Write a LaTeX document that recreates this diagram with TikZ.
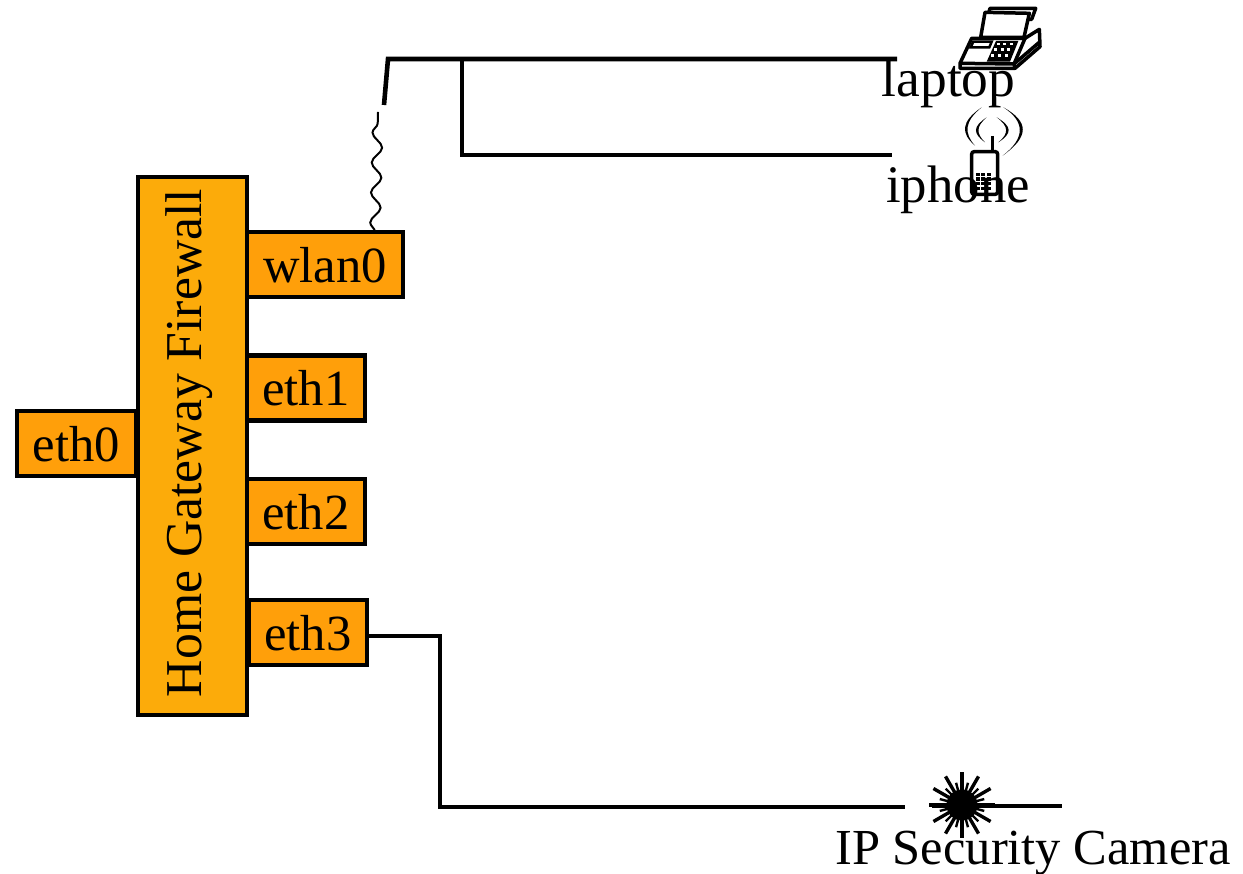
\documentclass[tikz,border=0pt]{standalone}
\usepackage{fontspec}
\setmainfont{Liberation Serif}
\usetikzlibrary{decorations.pathmorphing}
\definecolor{gate}{HTML}{FCAB0A}
\definecolor{iface}{HTML}{FF9F0A}
\begin{document}
\begin{tikzpicture}[
    x=0.01cm, y=-0.01cm,
    gateway/.style={draw, fill=gate, line width=4.5*0.01cm, inner sep=0pt, outer sep=0pt},
    port/.style={draw, fill=iface, line width=4.5*0.01cm, inner sep=0pt, outer sep=0pt,
      minimum height=65*0.01cm, text height=36*0.01cm, text depth=0pt,
      font=\fontsize{14.4pt}{16pt}\selectfont},
    wire/.style={line width=4.6*0.01cm, line join=miter},
    tag/.style={font=\fontsize{15pt}{16pt}\selectfont, inner sep=0pt},
    icon/.style={line width=3.5*0.01cm, line join=round, fill=white}]
  \useasboundingbox (0,0) rectangle (1243,874);
  % the gateway and its interfaces
  \node[gateway, minimum width=109*0.01cm, minimum height=538*0.01cm] (gw) at (192.5,446) {};
  \node[font=\fontsize{14.7pt}{16pt}\selectfont, rotate=90, inner sep=0pt] (gwtext) at (189,443) {Home Gateway Firewall};
  \node[port, minimum width=119*0.01cm] (eth0) at (76.5,443.5) {eth0};
  \node[port, minimum width=156*0.01cm] (wlan0) at (325,264.5) {wlan0};
  \node[port, minimum width=118*0.01cm] (eth1) at (306,388) {eth1};
  \node[port, minimum width=118*0.01cm] (eth2) at (306,511.5) {eth2};
  \node[port, minimum width=118*0.01cm] (eth3) at (308,632.5) {eth3};
  % labels
  \node[tag, font=\fontsize{15.2pt}{16pt}\selectfont] (laptop) at (948.5,84) {laptop};
  \node[tag] (iphone) at (958,190) {iphone};
  \node[tag, font=\fontsize{14.35pt}{16pt}\selectfont] (camera) at (1033,853) {IP Security Camera};
  % wiring
  \coordinate (apfoot) at (384,105);
  \coordinate (aptop) at (388,59);
  \coordinate (aptee) at (462,59);
  \coordinate (laptopend) at (897,59);
  \coordinate (iphoneend) at (892,155);
  \coordinate (cambend) at (440,636);
  \coordinate (camend) at (905,807);
  \coordinate (camhub) at (962,805);
  \coordinate (radiotop) at (378,112);
  \draw[wire] (apfoot) -- (aptop) -- (laptopend);
  \draw[wire] (aptee) |- (iphoneend);
  \draw[wire, line width=3.5*0.01cm, line cap=rect] (eth3.east |- cambend) -- (cambend);
  \draw[wire, line cap=rect] (cambend) -- (cambend |- camend);
  \draw[wire] (cambend |- camend) -- (camend);
  \draw[line width=2*0.01cm, decorate,
    decoration={snake, amplitude=5*0.01cm, segment length=30*0.01cm}]
    (wlan0.north -| 375,0) -- (radiotop);
  % camera burst
  \begin{scope}[shift={(camhub)}]
    \fill (0,0) circle (15.5);
    \foreach \a in {0,30,...,330}
      \draw[line width=3.4*0.01cm] (0,0) -- (\a:33);
    \foreach \a in {15,45,...,345}
      \draw[line width=2.4*0.01cm] (0,0) -- (\a:23);
    \draw[line width=3.4*0.01cm] (-30,1) -- (100,1);
  \end{scope}
  % fax, in zoomed units
  \begin{scope}[shift={(870,0)}, x=0.01cm/3, y=-0.01cm/3]
    \draw[icon] (360,25) -- (497,25) -- (485,58) -- (350,58) -- cycle;
    \draw[icon] (332,112) -- (345,37) -- (478,40) -- (462,112) -- cycle;
    \draw[icon] (305,115) -- (465,115) -- (508,88) -- (510,140) -- (435,205) -- (270,205) -- (270,190) -- cycle;
    \draw[line width=3.5*0.01cm] (270,190) -- (432,192) -- (510,125);
    \draw[line width=3.5*0.01cm] (432,192) -- (435,205);
    \draw[line width=3.5*0.01cm] (465,115) -- (432,192);
    \draw[line width=2.5*0.01cm, fill=white] (310,125) -- (365,125) -- (358,142) -- (302,142) -- cycle;
    \fill (378,123) -- (445,123) -- (420,185) -- (350,185) -- cycle;
    \foreach \i in {0,1,2} \foreach \j in {0,1,2}
      \fill[white] ({380+\i*20-\j*8},{128+\j*17}) rectangle +(9,8);
  \end{scope}
  % phone, in zoomed units
  \begin{scope}[shift={(870,0)}, x=0.01cm/3, y=-0.01cm/3]
    \draw[line width=3.5*0.01cm] (367,408) -- (367,455);
    \draw[line width=3.5*0.01cm, rounded corners=2.5*0.01cm] (305,455) rectangle (383,583);
    \foreach \i in {0,1,2} \foreach \j in {0,1,2,3}
      \fill ({318+\i*16},{518+\j*14}) rectangle +(12,10);
    \fill (335,322) .. controls (272,365) and (272,400) .. (315,437) .. controls (282,400) and (282,365) .. cycle;
    \fill (400,322) .. controls (478,365) and (478,410) .. (398,467) .. controls (466,415) and (466,365) .. cycle;
    \fill (350,352) .. controls (308,380) and (308,400) .. (345,427) .. controls (318,400) and (318,380) .. cycle;
    \fill (380,352) .. controls (427,380) and (427,400) .. (385,427) .. controls (417,400) and (417,380) .. cycle;
  \end{scope}
\end{tikzpicture}
\end{document}
